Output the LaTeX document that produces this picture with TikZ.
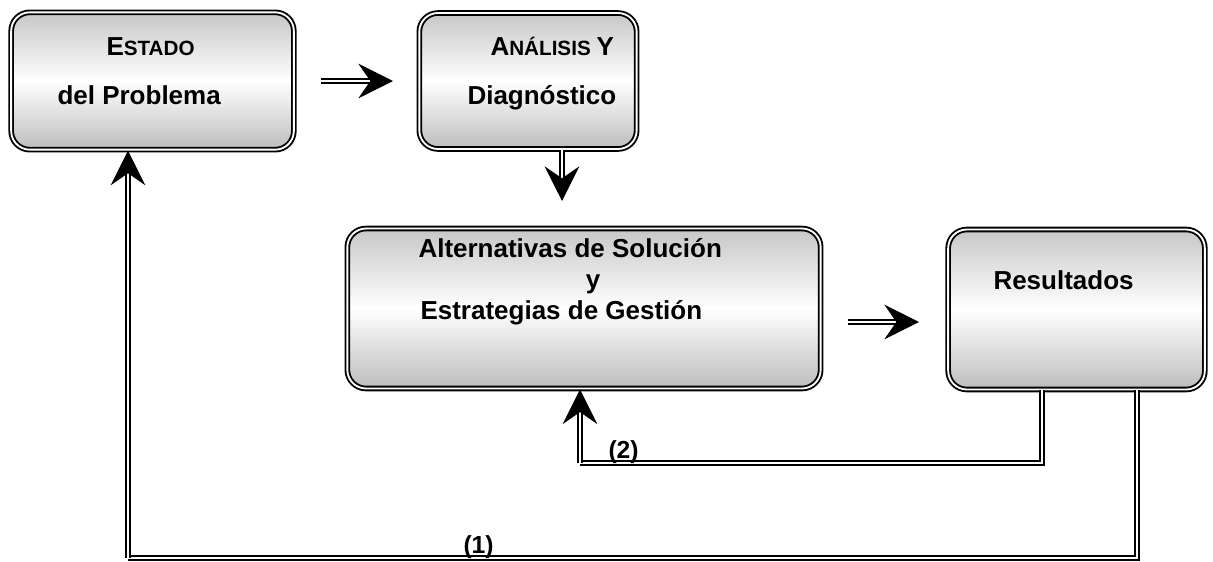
\documentclass[tikz,border=0pt]{standalone}
\usepackage{fontspec}
\setmainfont{Liberation Sans}
\usetikzlibrary{arrows.meta}
\tikzset{every picture/.style={line width=0.75pt}}
\tikzset{
  stagebox/.style={draw=black, double=white, double distance=1.4pt, line width=1.4pt,
    rounded corners=14pt, top color=black!22, bottom color=black!26, middle color=white,
    inner sep=0pt},
  flowline/.style={draw=black, double=white, double distance=1.7pt, line width=1.1pt,
    -{Stealth[length=26pt,width=26pt,inset=9pt]}},
  loopline/.style={draw=black, double=white, double distance=1.7pt, line width=1.1pt}
}
\newcommand{\boxfont}{\fontsize{19.5}{23}\selectfont\bfseries}
\newcommand{\capfont}{\fontsize{15.5}{18}\selectfont\bfseries}
\newcommand{\tagfont}{\fontsize{18.5}{21}\selectfont\bfseries}

\begin{document}
\begin{tikzpicture}[x=0.75pt,y=0.75pt,yscale=-1,xscale=1]
	\useasboundingbox (0,0) rectangle (1213,561);
	
	%Shape: Rounded Rectangle [id:estado] 
	\node [stagebox, minimum width=212pt, minimum height=103pt] (estado) at (152.5,81) {};
	%Shape: Rounded Rectangle [id:analisis] 
	\node [stagebox, minimum width=163pt, minimum height=102pt] (analisis) at (528,81) {};
	%Shape: Rounded Rectangle [id:alternativas] 
	\node [stagebox, minimum width=355pt, minimum height=120pt] (alternativas) at (584,308.5) {};
	%Shape: Rounded Rectangle [id:resultados] 
	\node [stagebox, minimum width=192.5pt, minimum height=120pt] (resultados) at (1076.5,309.5) {};
	
	%Free ends of the arrows
	\coordinate (a1s) at (321,81);
	\coordinate (a1e) at (393,81);
	\coordinate (a2e) at (562,201);
	\coordinate (a3s) at (848,322);
	\coordinate (a3e) at (919,322);
	%Straight Lines [id:flow] 
	\draw [flowline] (a1s) -- (a1e);
	\draw [flowline] (analisis.south -| a2e) -- (a2e);
	\draw [flowline] (a3s) -- (a3e);
	
	%Feedback (2)
	\coordinate (r2) at (1042,463);
	\coordinate (l2) at (580,463);
	\draw [loopline] (resultados.south -| r2) -- (r2) -- (l2);
	\draw [flowline] (l2) -- (alternativas.south -| l2);
	%Feedback (1)
	\coordinate (r1) at (1137,558);
	\coordinate (l1) at (128,558);
	\draw [loopline] (resultados.south -| r1) -- (r1) -- (l1);
	\draw [flowline] (l1) -- (estado.south -| l1);
	
	% Text Node
	\node [anchor=base west, inner sep=0pt] (t1a) at (106,55) {\boxfont E\capfont STADO};
	% Text Node
	\node [anchor=base west, inner sep=0pt] (t1b) at (57,104) {\boxfont del Problema};
	% Text Node
	\node [anchor=base west, inner sep=0pt] (t2a) at (490,55) {\boxfont A\capfont NÁLISIS \boxfont Y};
	% Text Node
	\node [anchor=base west, inner sep=0pt] (t2b) at (467,104) {\boxfont Diagnóstico};
	% Text Node
	\node [anchor=base west, inner sep=0pt] (t3a) at (418,257) {\boxfont Alternativas de Solución};
	% Text Node
	\node [anchor=base, inner sep=0pt] (t3b) at (593,288) {\boxfont y};
	% Text Node
	\node [anchor=base west, inner sep=0pt] (t3c) at (420,319) {\boxfont Estrategias de Gestión};
	% Text Node
	\node [anchor=base west, inner sep=0pt] (t4) at (993,289) {\boxfont Resultados};
	% Text Node
	\node [anchor=base west, inner sep=0pt] (tag2) at (608,458) {\tagfont (2)};
	% Text Node
	\node [anchor=base west, inner sep=0pt] (tag1) at (463,553) {\tagfont (1)};
\end{tikzpicture}
\end{document}
